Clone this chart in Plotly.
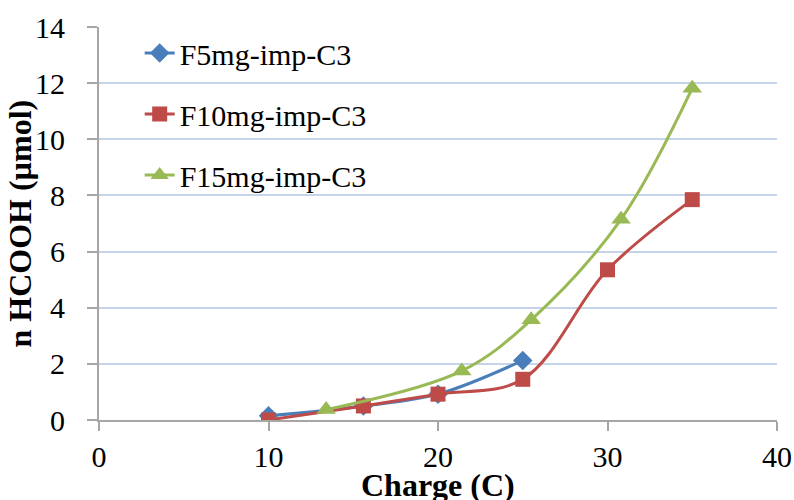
import plotly.graph_objects as go

# Data
f5_x = [10, 15.6, 20, 25]
f5_y = [0.15, 0.5, 0.92, 2.12]

f10_x = [10, 15.6, 20, 25, 30, 35]
f10_y = [0.0, 0.5, 0.92, 1.45, 5.35, 7.85]

f15_x = [13.4, 21.4, 25.5, 30.8, 35]
f15_y = [0.37, 1.75, 3.57, 7.15, 11.82]

series_names = ["F5mg-imp-C3", "F10mg-imp-C3", "F15mg-imp-C3"]
x_ticks = [0, 10, 20, 30, 40]
y_ticks = [0, 2, 4, 6, 8, 10, 12, 14]

FONT = "Liberation Serif"

fig = go.Figure()
fig.add_trace(go.Scatter(
    x=f5_x, y=f5_y, name=series_names[0], mode="lines+markers",
    line=dict(color="#4A7EBB", width=3, shape="spline", smoothing=1),
    marker=dict(symbol="diamond", size=15, color="#4A7EBB"),
    legendgroup="a"))
fig.add_trace(go.Scatter(
    x=f10_x, y=f10_y, name=series_names[1], mode="lines+markers",
    line=dict(color="#BE4B48", width=3, shape="spline", smoothing=1),
    marker=dict(symbol="square", size=15, color="#BE4B48"),
    legendgroup="b"))
fig.add_trace(go.Scatter(
    x=f15_x, y=f15_y, name=series_names[2], mode="lines+markers",
    line=dict(color="#98B954", width=3, shape="spline", smoothing=1),
    marker=dict(symbol="triangle-up", size=17, color="#98B954"),
    legendgroup="c"))

fig.update_layout(
    width=794, height=500,
    margin=dict(l=99, r=17, t=27, b=80),
    paper_bgcolor="white", plot_bgcolor="white",
    font=dict(family=FONT, size=30, color="black"),
    showlegend=True,
    legend=dict(
        x=0.06, y=1.0, xanchor="left", yanchor="top",
        bgcolor="rgba(0,0,0,0)", font=dict(size=30, family=FONT),
        traceorder="grouped", tracegroupgap=19, itemwidth=30,
    ),
    xaxis=dict(
        range=[0, 40], tickvals=x_ticks, showgrid=False, zeroline=False,
        showline=True, linecolor="#A6A6A6", linewidth=2,
        ticks="outside", ticklen=9, tickcolor="#A6A6A6", tickwidth=1.5,
        tickfont=dict(size=30, family=FONT),
        automargin=False,
    ),
    yaxis=dict(
        range=[0, 14], tickvals=y_ticks, showgrid=True, gridcolor="#C5D3EB", gridwidth=2,
        zeroline=False, showline=True, linecolor="#A6A6A6", linewidth=2,
        ticks="outside", ticklen=10, tickcolor="#A6A6A6", tickwidth=1.5,
        ticklabelstandoff=16,
        tickfont=dict(size=30, family=FONT),
        automargin=False,
    ),
    annotations=[
        dict(text="<b>Charge (C)</b>", xref="paper", yref="paper", x=0.5, y=0,
             xanchor="center", yanchor="top", yshift=-45, showarrow=False,
             font=dict(size=32, family=FONT, color="black")),
        dict(text="<b>n HCOOH (µmol)</b>", xref="paper", yref="paper", x=0, y=0.5,
             xanchor="center", yanchor="middle", xshift=-80, textangle=-90, showarrow=False,
             font=dict(size=32, family=FONT, color="black")),
    ],
)

fig.write_html(
    "out.html",
    config={"displayModeBar": False},
    post_script="document.body.style.margin='0';document.body.style.overflow='hidden';",
)
